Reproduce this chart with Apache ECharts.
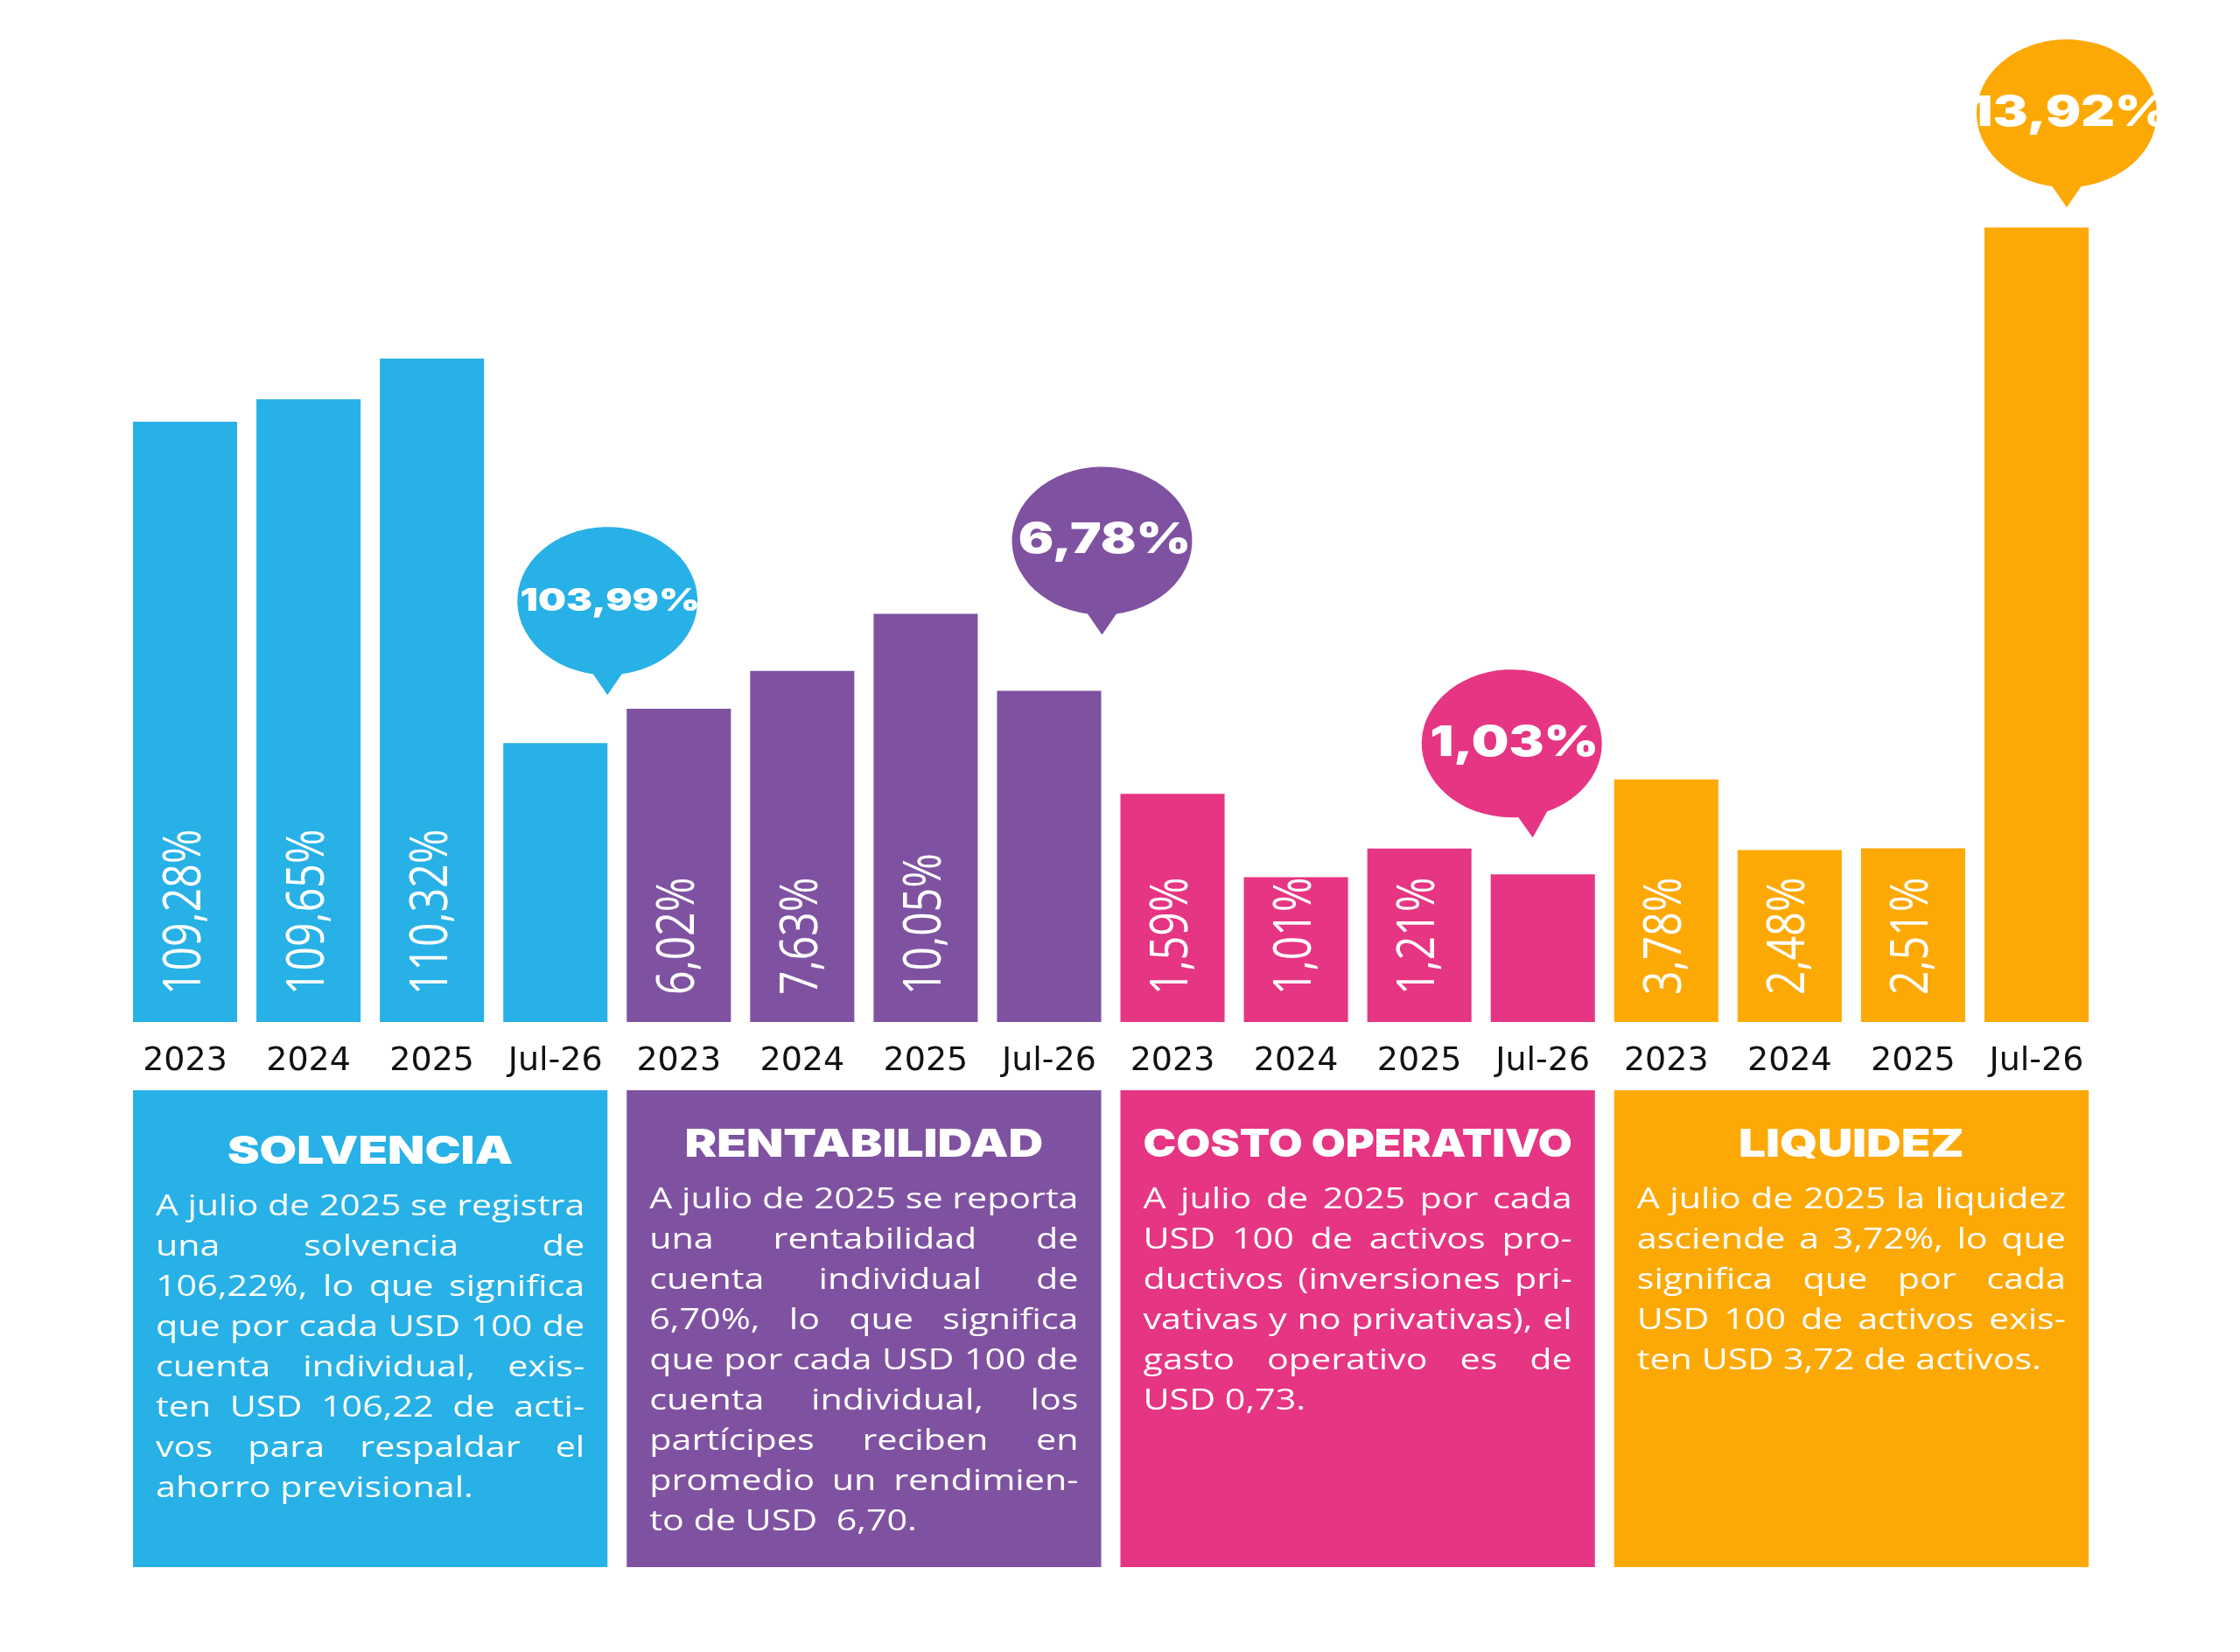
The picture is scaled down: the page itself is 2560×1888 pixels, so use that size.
<!DOCTYPE html>
<html>
<head>
<meta charset="utf-8">
<script src="https://cdn.jsdelivr.net/npm/echarts/dist/echarts.min.js"></script>
<style>
html,body{margin:0;padding:0;background:#ffffff;}
#chart{width:2560px;height:1888px;}
</style>
</head>
<body>
<div id="chart"></div>
<script>
// ---------- DATA ----------
const categories = ['2023', '2024', '2025', 'Jul-26'];
const groupNames = ['SOLVENCIA', 'RENTABILIDAD', 'COSTO OPERATIVO', 'LIQUIDEZ'];
const solvencia = [109.28, 109.65, 110.32, 103.99];
const rentabilidad = [6.02, 7.63, 10.05, 6.78];
const costoOperativo = [1.59, 1.01, 1.21, 1.03];
const liquidez = [3.78, 2.48, 2.51, 13.92];

const solvenciaText = ['A julio de 2025 se registra', 'una solvencia de', '106,22%, lo que significa', 'que por cada USD 100 de', 'cuenta individual, exis-', 'ten USD 106,22 de acti-', 'vos para respaldar el', 'ahorro previsional.'];
const rentabilidadText = ['A julio de 2025 se reporta', 'una rentabilidad de', 'cuenta individual de', '6,70%, lo que significa', 'que por cada USD 100 de', 'cuenta individual, los', 'partícipes reciben en', 'promedio un rendimien-', 'to de USD  6,70.'];
const costoText = ['A julio de 2025 por cada', 'USD 100 de activos pro-', 'ductivos (inversiones pri-', 'vativas y no privativas), el', 'gasto operativo es de', 'USD 0,73.'];
const liquidezText = ['A julio de 2025 la liquidez', 'asciende a 3,72%, lo que', 'significa que por cada', 'USD 100 de activos exis-', 'ten USD 3,72 de activos.'];

// ---------- STYLE / LAYOUT ----------
const groupValues = [solvencia, rentabilidad, costoOperativo, liquidez];
const groupTexts = [solvenciaText, rentabilidadText, costoText, liquidezText];
const groupColors = ['#27B1E6', '#7F52A1', '#E63582', '#FDA905'];
const axisRanges = [
  { min: 99.4, max: 113.8 },
  { min: -7.3, max: 29.9 },
  { min: 0, max: 6.1 },
  { min: -0.68, max: 15.4 }
];
// dx: pointer tip offset from bar centre, gap: tip above bar top,
// po: pointer offset from bubble centre, fs: font size
const bubbleLayout = [
  { dx: 59.5, gap: 55, po: 0, fs: 36 },
  { dx: 60.5, gap: 64, po: 0, fs: 48 },
  { dx: -11.5, gap: 42, po: 24, fs: 48 },
  { dx: 34.5, gap: 23, po: 0, fs: 48 }
];
const panelDy = [8, 0, 0, 0];
const BAR_RATIO = 0.844;
const STRETCH = 1.25;
const BODY_FONT = '400 33px "Open Sans", "Noto Sans", sans-serif';
const TITLE_FONT = '900 44px Inter, Lato, "DejaVu Sans", sans-serif';
const LABEL_FONT = '400 48px "Open Sans", "Noto Sans", sans-serif';

const N = categories.length * groupValues.length;
const allCategories = [];
groupValues.forEach(() => categories.forEach(c => allCategories.push(c)));

function fmt(v) { return v.toFixed(2).replace('.', ',') + '%'; }

const mctx = document.createElement('canvas').getContext('2d');
function textWidth(s, font) { mctx.font = font; return mctx.measureText(s).width; }

function renderMarks(g) {
  return function (params, api) {
    const idx = api.value(0), v = api.value(1), k = api.value(2);
    const top = api.coord([idx, v]);
    const cs = params.coordSys;
    const base = cs.y + cs.height;
    if (k < categories.length - 1) {
      return {
        type: 'text', x: top[0], y: base - 31, rotation: Math.PI / 2, scaleY: STRETCH,
        style: { text: fmt(v), fill: '#ffffff', font: LABEL_FONT, align: 'left', verticalAlign: 'middle' }
      };
    }
    const b = bubbleLayout[g];
    const tx = top[0] + b.dx, ty = top[1] - b.gap;
    const cx = tx - b.po;
    const rx = 103, ry = 84.5, pl = 23, ph = 16.5;
    const cy = ty - pl - ry;
    const xl = tx - ph - cx, xr = tx + ph - cx;
    const yl = cy + ry * Math.sqrt(1 - (xl / rx) * (xl / rx));
    const yr = cy + ry * Math.sqrt(1 - (xr / rx) * (xr / rx));
    const d = 'M ' + (tx - ph) + ' ' + yl + ' A ' + rx + ' ' + ry + ' 0 1 1 ' + (tx + ph) + ' ' + yr + ' L ' + tx + ' ' + ty + ' Z';
    return {
      type: 'group',
      children: [
        { type: 'path', shape: { pathData: d }, style: { fill: groupColors[g] } },
        {
          type: 'text', x: cx + 3, y: cy, scaleX: STRETCH,
          style: { text: fmt(v), fill: '#ffffff', font: '900 ' + b.fs + 'px Inter, Lato, "DejaVu Sans", sans-serif', align: 'center', verticalAlign: 'middle' }
        }
      ]
    };
  };
}

function renderPanel(params, api) {
  const g = api.value(2);
  const cs = params.coordSys;
  const base = cs.y + cs.height;
  const band = api.size([1, 0])[0];
  const bw = band * BAR_RATIO;
  const left = api.coord([g * 4, 0])[0] - bw / 2;
  const right = api.coord([g * 4 + 3, 0])[0] + bw / 2;
  const top = base + 78, bottom = base + 623;
  const dy = panelDy[g];
  const x0 = left + 26, avail = (right - 26) - x0;
  const tw = textWidth(groupNames[g], TITLE_FONT) * STRETCH;
  const titleScale = tw > avail ? STRETCH * avail / tw : STRETCH;
  const children = [
    { type: 'rect', shape: { x: left, y: top, width: right - left, height: bottom - top }, style: { fill: groupColors[g] } },
    {
      type: 'text', x: (left + right) / 2, y: top + 63 + dy, scaleX: titleScale,
      style: { text: groupNames[g], fill: '#ffffff', font: TITLE_FONT, align: 'center', verticalAlign: 'middle' }
    }
  ];
  const spaceW = textWidth(' ', BODY_FONT) * STRETCH;
  const lines = groupTexts[g];
  lines.forEach((line, li) => {
    const y = top + 126 + dy + li * 46;
    const last = li === lines.length - 1;
    if (last) {
      const w = textWidth(line, BODY_FONT) * STRETCH;
      const s = w > avail ? STRETCH * avail / w : STRETCH;
      children.push({ type: 'text', x: x0, y: y, scaleX: s, style: { text: line, fill: '#ffffff', font: BODY_FONT, align: 'left', verticalAlign: 'middle' } });
      return;
    }
    const words = line.split(' ').filter(w => w.length);
    let ws = words.map(w => textWidth(w, BODY_FONT) * STRETCH);
    const total = ws.reduce((a, b) => a + b, 0);
    const natural = total + spaceW * (words.length - 1);
    let s = STRETCH, gap;
    if (natural > avail) {
      const f = avail / natural;
      s = STRETCH * f;
      ws = ws.map(w => w * f);
      gap = spaceW * f;
    } else {
      gap = words.length > 1 ? (avail - total) / (words.length - 1) : 0;
    }
    let cx = x0;
    words.forEach((w, wi) => {
      children.push({ type: 'text', x: cx, y: y, scaleX: s, style: { text: w, fill: '#ffffff', font: BODY_FONT, align: 'left', verticalAlign: 'middle' } });
      cx += ws[wi] + gap;
    });
  });
  return { type: 'group', children: children };
}

const yAxes = axisRanges.map(r => ({ type: 'value', min: r.min, max: r.max, startValue: r.min, show: false, splitLine: { show: false } }));

const series = [];
groupValues.forEach((vals, g) => {
  const d = new Array(N).fill('-');
  vals.forEach((v, i) => { d[g * 4 + i] = v; });
  series.push({
    type: 'bar', name: groupNames[g], yAxisIndex: g, data: d,
    barWidth: (BAR_RATIO * 100) + '%', barGap: '-100%',
    itemStyle: { color: groupColors[g] }, label: { show: false }, silent: true
  });
});
groupValues.forEach((vals, g) => {
  series.push({
    type: 'custom', yAxisIndex: g, z: 5, silent: true,
    data: vals.map((v, i) => [g * 4 + i, v, i]),
    renderItem: renderMarks(g)
  });
});
series.push({
  type: 'custom', yAxisIndex: 0, z: 4, silent: true,
  data: groupValues.map((v, g) => [g * 4, axisRanges[0].min, g]),
  renderItem: renderPanel
});

const chart = echarts.init(document.getElementById('chart'), null, { renderer: 'canvas' });
chart.setOption({
  backgroundColor: '#ffffff',
  animation: false,
  grid: { left: 141, right: 162, top: 168, bottom: 720, containLabel: false, outerBoundsMode: 'none' },
  xAxis: {
    type: 'category', data: allCategories,
    axisLine: { show: false }, axisTick: { show: false }, splitLine: { show: false },
    axisLabel: { interval: 0, margin: 26, color: '#111111', fontSize: 38, fontFamily: '"DejaVu Sans", "Open Sans", sans-serif' }
  },
  yAxis: yAxes,
  series: series
});
</script>
</body>
</html>
